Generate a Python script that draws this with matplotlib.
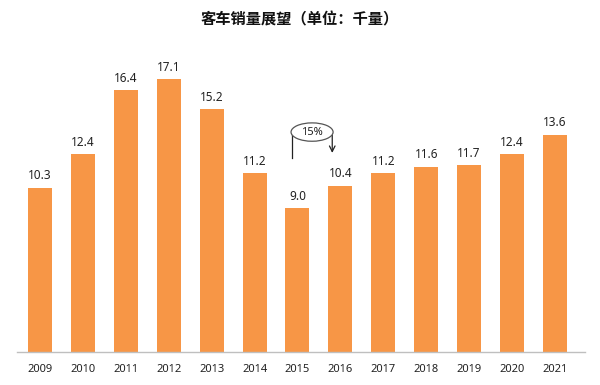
import matplotlib
matplotlib.use('Agg')

import matplotlib.pyplot as plt
from matplotlib.patches import Ellipse

plt.rcParams['font.family'] = ['Noto Sans CJK SC', 'DejaVu Sans']

# ── Data ───────────────────────────────────────────────────────────────
years = ['2009', '2010', '2011', '2012', '2013', '2014', '2015',
         '2016', '2017', '2018', '2019', '2020', '2021']
sales = [10.3, 12.4, 16.4, 17.1, 15.2, 11.2, 9.0,
         10.4, 11.2, 11.6, 11.7, 12.4, 13.6]
growth_label = '15%'

BAR_COLOR = '#F79646'
NUM_FONT = ['Noto Sans', 'DejaVu Sans']

# ── Figure ─────────────────────────────────────────────────────────────
fig = plt.figure(figsize=(6.0, 3.85), dpi=100)
ax = fig.add_axes([17 / 600, 1 - 352 / 385, (585 - 17) / 600, (352 - 60) / 385])

x = list(range(len(years)))
ax.bar(x, sales, width=0.56, color=BAR_COLOR, zorder=2)

for xi, v in zip(x, sales):
    ax.annotate(f'{v:.1f}', (xi, v), xytext=(0, 4), textcoords='offset points',
                ha='center', va='bottom', fontsize=8.5, color='#222222',
                family=NUM_FONT)

ax.set_xlim(-0.536, 12.70)
ax.set_ylim(0, (352 - 60) / 15.96)
ax.set_xticks(x)
ax.set_xticklabels(years, fontsize=8, color='#222222', family=NUM_FONT)
ax.tick_params(axis='x', length=0, pad=9)
ax.set_yticks([])
for side in ['top', 'right', 'left']:
    ax.spines[side].set_visible(False)
ax.spines['bottom'].set_color('#BFBFBF')
ax.spines['bottom'].set_linewidth(1.0)

# ── Growth annotation between 2015 and 2016 ───────────────────────────
ell = Ellipse((6.34, 13.78), width=0.98, height=1.15, facecolor='white',
              edgecolor='#555555', linewidth=0.9, zorder=3)
ax.add_patch(ell)
ax.text(6.34, 13.78, growth_label, ha='center', va='center', fontsize=8,
        color='#222222', zorder=4, family=NUM_FONT)
ax.plot([5.87, 5.87], [13.78, 12.16], color='#222222', linewidth=0.9, zorder=2)
ax.annotate('', xy=(6.81, 12.30), xytext=(6.81, 13.78),
            arrowprops=dict(arrowstyle='->', color='#222222', lw=0.9), zorder=2)

fig.text(0.5, 1 - 19 / 385, '客车销量展望（单位：千量）', ha='center', va='center',
         fontsize=11, fontweight='bold', color='#111111')

fig.savefig('out.png', dpi=100)
